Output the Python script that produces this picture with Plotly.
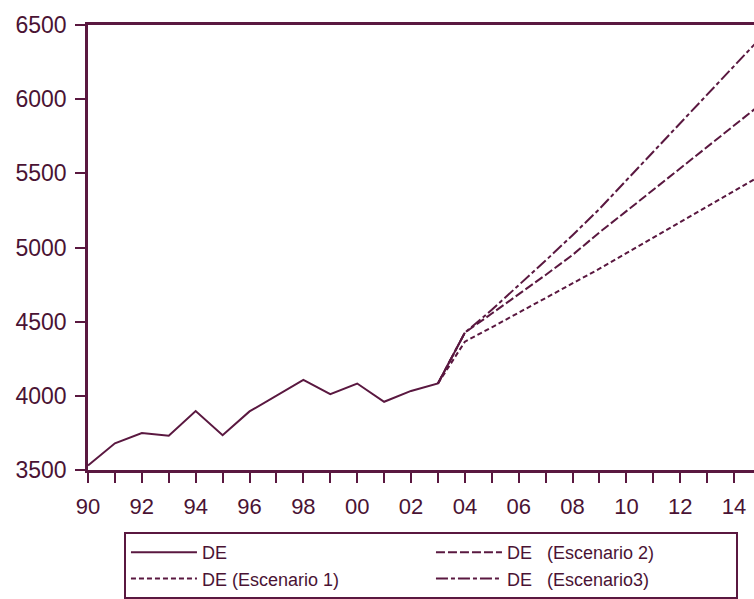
import plotly.graph_objects as go

# ---- data ----
hist_years = [1990, 1991, 1992, 1993, 1994, 1995, 1996, 1997, 1998, 1999,
              2000, 2001, 2002, 2003, 2004]
hist_values = [3530, 3680, 3749, 3731, 3897, 3735, 3895, 3999, 4107, 4011,
               4083, 3960, 4033, 4083, 4426]

scen_years = [2003, 2004, 2005, 2006, 2007, 2008, 2009, 2010, 2011, 2012,
              2013, 2014, 2015]
scen1_values = [4083, 4365, 4462, 4561, 4658, 4756, 4857, 4962, 5066, 5170,
                5276, 5380, 5485]
scen2_values = [4083, 4426, 4555, 4684, 4815, 4950, 5102, 5245, 5390, 5533,
                5678, 5822, 5967]
scen3_values = [4083, 4426, 4580, 4745, 4912, 5083, 5260, 5453, 5646, 5837,
                6030, 6223, 6416]

x_tick_values = list(range(1990, 2015))
x_tick_labels = ["90", "", "92", "", "94", "", "96", "", "98", "", "00", "",
                 "02", "", "04", "", "06", "", "08", "", "10", "", "12", "",
                 "14"]
y_tick_values = [3500, 4000, 4500, 5000, 5500, 6000, 6500]

series_names = ["DE", "DE\u00a0(Escenario 1)", "DE\u00a0\u00a0\u00a0(Escenario 2)",
                "DE\u00a0\u00a0\u00a0(Escenario3)"]

LINE = "#5a1840"
TEXT = "#4a1334"
FONT = "Liberation Sans, Arial, sans-serif"

fig = go.Figure()
fig.add_trace(go.Scatter(x=hist_years, y=hist_values, mode="lines",
                         name=series_names[0],
                         line=dict(color=LINE, width=2)))
fig.add_trace(go.Scatter(x=scen_years, y=scen2_values, mode="lines",
                         name=series_names[2],
                         line=dict(color=LINE, width=2, dash="9px,3px")))
fig.add_trace(go.Scatter(x=scen_years, y=scen1_values, mode="lines",
                         name=series_names[1],
                         line=dict(color=LINE, width=2, dash="5px,3px")))
fig.add_trace(go.Scatter(x=scen_years, y=scen3_values, mode="lines",
                         name=series_names[3],
                         line=dict(color=LINE, width=2, dash="12px,3px,4px,3px")))

fig.update_layout(
    template="none",
    width=754, height=599,
    margin=dict(l=88, r=0, t=25, b=128, pad=0),
    paper_bgcolor="white", plot_bgcolor="white",
    font=dict(family=FONT, color=TEXT, size=21),
    showlegend=True,
    legend=dict(
        orientation="h",
        x=0.054, xanchor="left",
        y=-0.14, yanchor="top",
        bgcolor="white", bordercolor=LINE, borderwidth=2,
        font=dict(family=FONT, size=18, color=TEXT),
        entrywidth=224, entrywidthmode="pixels",
        itemwidth=66,
        traceorder="normal",
        tracegroupgap=0,
    ),
)

fig.update_xaxes(
    range=[1990, 2014.74], automargin=False,
    tickmode="array", tickvals=x_tick_values, ticktext=x_tick_labels,
    ticks="outside", ticklen=10, tickwidth=2, tickcolor=LINE,
    showline=True, linecolor=LINE, linewidth=2.5, mirror=True,
    showgrid=False, zeroline=False,
    tickfont=dict(size=22, color=TEXT),
    ticklabelstandoff=5,
)
fig.update_yaxes(
    range=[3500, 6500], automargin=False,
    tickmode="array", tickvals=y_tick_values,
    ticks="outside", ticklen=10, tickwidth=2, tickcolor=LINE,
    showline=True, linecolor=LINE, linewidth=2.5, mirror=False,
    showgrid=False, zeroline=False,
    tickfont=dict(size=23, color=TEXT),
    ticklabelstandoff=4,
)

fig.write_html(
    "out.html",
    config={"displayModeBar": False},
    post_script="document.body.style.margin='0';document.body.style.overflow='hidden';",
)
